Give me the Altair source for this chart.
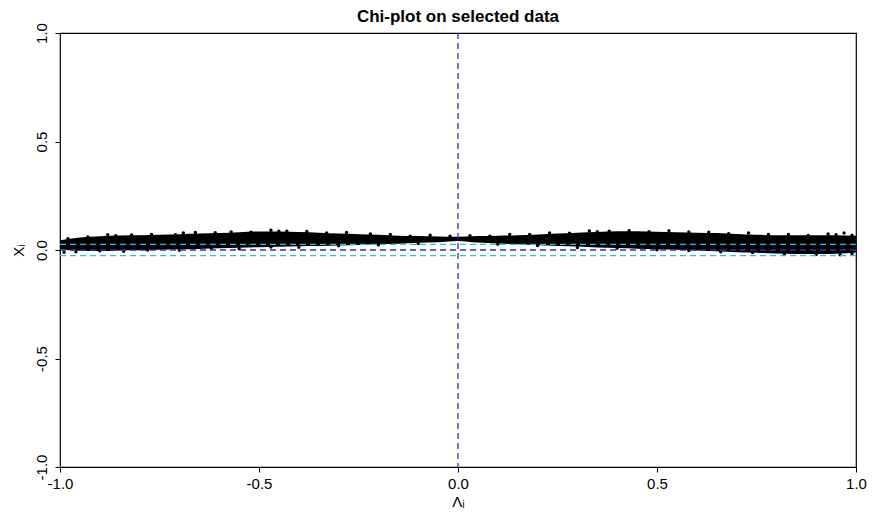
import altair as alt
import pandas as pd

# Envelope of the dense point band (lambda grid, lower / upper chi)
LAMBDA_GRID = [-1.0, -0.95, -0.9, -0.85, -0.8, -0.75, -0.7, -0.65, -0.6, -0.55, -0.5,
               -0.45, -0.4, -0.35, -0.3, -0.25, -0.2, -0.15, -0.1, -0.05, 0.0,
               0.05, 0.1, 0.15, 0.2, 0.25, 0.3, 0.35, 0.4, 0.45, 0.5,
               0.55, 0.6, 0.65, 0.7, 0.75, 0.8, 0.85, 0.9, 0.95, 1.0]
BAND_UPPER = [0.045, 0.058, 0.063, 0.067, 0.068, 0.070, 0.073, 0.076, 0.078, 0.082, 0.085,
              0.085, 0.083, 0.080, 0.076, 0.073, 0.070, 0.066, 0.064, 0.062, 0.061,
              0.064, 0.066, 0.068, 0.072, 0.076, 0.080, 0.083, 0.086, 0.086, 0.084,
              0.082, 0.080, 0.078, 0.074, 0.070, 0.068, 0.068, 0.068, 0.068, 0.066]
BAND_LOWER = [0.002, -0.004, -0.005, -0.002, -0.001, 0.001, 0.003, 0.005, 0.008, 0.010, 0.013,
              0.015, 0.017, 0.018, 0.021, 0.023, 0.026, 0.029, 0.033, 0.036, 0.042,
              0.034, 0.030, 0.026, 0.022, 0.019, 0.016, 0.012, 0.009, 0.006, 0.004,
              0.001, -0.002, -0.006, -0.010, -0.013, -0.016, -0.018, -0.018, -0.017, -0.012]

# Scattered points along the ragged edges of the band
TOP_LAMBDA = [-0.98, -0.93, -0.88, -0.86, -0.82, -0.77, -0.71, -0.69, -0.66, -0.61, -0.57,
              -0.52, -0.47, -0.45, -0.43, -0.38, -0.33, -0.28, -0.22, -0.17, -0.12, -0.07,
              -0.02, 0.03, 0.08, 0.13, 0.18, 0.23, 0.28, 0.33, 0.35, 0.38, 0.43, 0.48,
              0.53, 0.58, 0.63, 0.68, 0.73, 0.78, 0.83, 0.88, 0.93, 0.95, 0.97, 0.99]
TOP_CHI = [0.052, 0.060, 0.070, 0.066, 0.069, 0.072, 0.070, 0.078, 0.081, 0.080, 0.083,
           0.082, 0.091, 0.087, 0.086, 0.085, 0.078, 0.081, 0.074, 0.071, 0.064, 0.068,
           0.063, 0.066, 0.064, 0.072, 0.071, 0.078, 0.077, 0.088, 0.084, 0.087, 0.089,
           0.084, 0.089, 0.083, 0.082, 0.075, 0.078, 0.071, 0.071, 0.067, 0.074, 0.070,
           0.078, 0.068]
BOTTOM_LAMBDA = [-0.99, -0.96, -0.90, -0.84, -0.78, -0.70, -0.62, -0.55, -0.47, -0.40, -0.30,
                 -0.20, -0.10, 0.10, 0.20, 0.30, 0.40, 0.50, 0.58, 0.66, 0.74, 0.82, 0.90,
                 0.96, 0.99]
BOTTOM_CHI = [-0.010, -0.008, -0.004, -0.006, 0.000, -0.001, 0.007, 0.006, 0.014, 0.013, 0.020,
              0.024, 0.030, 0.027, 0.021, 0.012, 0.008, 0.001, -0.002, -0.008, -0.012, -0.020,
              -0.021, -0.022, -0.016]

# Reference lines
ZERO_LINE = [0.0]
CONTROL_LIMITS = [0.026, -0.026]

TICKS = [-1.0, -0.5, 0.0, 0.5, 1.0]

band_df = pd.DataFrame({"lam": LAMBDA_GRID, "lo": BAND_LOWER, "hi": BAND_UPPER})
edge_df = pd.DataFrame({"lam": TOP_LAMBDA + BOTTOM_LAMBDA, "chi": TOP_CHI + BOTTOM_CHI})
zero_df = pd.DataFrame({"v": ZERO_LINE})
ctrl_df = pd.DataFrame({"v": CONTROL_LIMITS})

FONT = "Liberation Sans"
label_expr = "datum.value < 0 ? '-' + format(-datum.value, '.1f') : format(datum.value, '.1f')"

xscale = alt.Scale(domain=[-1, 1], nice=False, zero=False)
yscale = alt.Scale(domain=[-1, 1], nice=False, zero=False)

xaxis = alt.Axis(values=TICKS, labelExpr=label_expr, grid=False, domain=False,
                 tickColor="black", tickSize=5, labelPadding=4, labelFontSize=15,
                 labelFont=FONT, labelColor="black", title="Λᵢ", titleFont=FONT,
                 titleFontSize=15, titleFontWeight="normal", titleColor="black",
                 titlePadding=3, labelFlush=False)
yaxis = alt.Axis(values=TICKS, labelExpr=label_expr, grid=False, domain=False,
                 tickColor="black", tickSize=5, labelPadding=6, labelFontSize=15,
                 labelFont=FONT, labelColor="black", labelAngle=270,
                 labelAlign="center", labelBaseline="bottom", title="Χᵢ",
                 titleFont=FONT, titleFontSize=15, titleFontWeight="normal",
                 titleColor="black", titlePadding=8, labelFlush=False)

band = alt.Chart(band_df).mark_area(color="black", opacity=1, interpolate="monotone").encode(
    x=alt.X("lam:Q", scale=xscale, axis=xaxis),
    y=alt.Y("lo:Q", scale=yscale, axis=yaxis),
    y2="hi:Q",
)

edges = alt.Chart(edge_df).mark_circle(color="black", size=12, opacity=1).encode(
    x=alt.X("lam:Q", scale=xscale),
    y=alt.Y("chi:Q", scale=yscale),
)

ctrl = alt.Chart(ctrl_df).mark_rule(color="#2ec4c4", strokeWidth=1.3, strokeDash=[6, 4]).encode(
    y=alt.Y("v:Q", scale=yscale)
)
hzero = alt.Chart(zero_df).mark_rule(color="#2d2dc8", strokeWidth=1.3, strokeDash=[6, 4]).encode(
    y=alt.Y("v:Q", scale=yscale)
)
vzero = alt.Chart(zero_df).mark_rule(color="#2d2dc8", strokeWidth=1.3, strokeDash=[6, 4]).encode(
    x=alt.X("v:Q", scale=xscale)
)

chart = alt.layer(band, edges, ctrl, hzero, vzero).properties(
    width=796,
    height=434,
    title=alt.TitleParams("Chi-plot on selected data", font=FONT, fontSize=17,
                          fontWeight="bold", color="black", anchor="middle",
                          frame="group", offset=-3),
    autosize=alt.AutoSizeParams(type="none"),
    padding={"left": 52, "top": 25, "right": 11, "bottom": 42},
    background="white",
).configure_view(stroke="black", strokeWidth=1.2)

chart.save("out.html", embed_options={"renderer": "svg", "actions": False})
